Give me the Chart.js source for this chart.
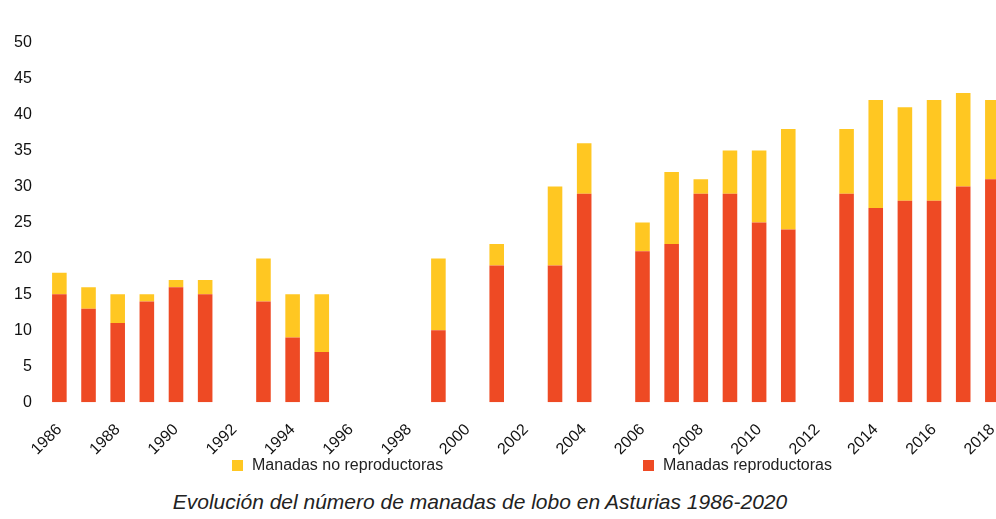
<!DOCTYPE html>
<html lang="es">
<head>
    <meta charset="UTF-8">
    <title>Evolución del número de manadas de lobo en Asturias 1986-2020</title>
    <style>
        body {
            margin: 0;
            background-color: #fff;
            font-family: 'Liberation Sans', Arial, sans-serif;
            width: 996px;
            height: 519px;
            overflow: hidden;
            position: relative;
        }
        .chart-box {
            position: absolute;
            left: 0;
            top: -16px;
            width: 1024px;
            height: 493px;
        }
        .legend {
            position: absolute;
            top: 456px;
            font-size: 16px;
            color: #222;
            display: flex;
            align-items: center;
        }
        .legend .box {
            display: inline-block;
            width: 11px;
            height: 11px;
            margin-right: 9px;
        }
        .caption {
            position: absolute;
            top: 490px;
            left: 0;
            width: 960px;
            text-align: center;
            font-style: italic;
            font-size: 21px;
            color: #222;
        }
    </style>
    <script src="https://cdn.jsdelivr.net/npm/chart.js"></script>
</head>
<body>
    <div class="chart-box">
        <canvas id="lobos"></canvas>
    </div>
    <div class="legend" style="left:232px;"><span class="box" style="background:#ffc722"></span>Manadas no reproductoras</div>
    <div class="legend" style="left:643px;"><span class="box" style="background:#ee4a24"></span>Manadas reproductoras</div>
    <div class="caption">Evolución del número de manadas de lobo en Asturias 1986-2020</div>
    <script>
        // años 1986-2018 (null = sin dato)
        const years = ['1986', '1987', '1988', '1989', '1990', '1991', '1992', '1993', '1994', '1995',
            '1996', '1997', '1998', '1999', '2000', '2001', '2002', '2003', '2004', '2005',
            '2006', '2007', '2008', '2009', '2010', '2011', '2012', '2013', '2014', '2015',
            '2016', '2017', '2018'];

        const reproductoras = [15, 13, 11, 14, 16, 15, null, 14, 9, 7,
            null, null, null, 10, null, 19, null, 19, 29, null,
            21, 22, 29, 29, 25, 24, null, 29, 27, 28,
            28, 30, 31];

        const noReproductoras = [3, 3, 4, 1, 1, 2, null, 6, 6, 8,
            null, null, null, 10, null, 3, null, 11, 7, null,
            4, 10, 2, 6, 10, 14, null, 9, 15, 13,
            14, 13, 11];

        const tickFont = { family: "'Liberation Sans', Arial, sans-serif", size: 16 };

        new Chart(document.getElementById('lobos'), {
            type: 'bar',
            data: {
                labels: years,
                datasets: [
                    {
                        label: 'Manadas reproductoras',
                        data: reproductoras,
                        backgroundColor: '#ee4a24',
                        barPercentage: 0.5,
                        categoryPercentage: 1.0
                    },
                    {
                        label: 'Manadas no reproductoras',
                        data: noReproductoras,
                        backgroundColor: '#ffc722',
                        barPercentage: 0.5,
                        categoryPercentage: 1.0
                    }
                ]
            },
            options: {
                responsive: true,
                maintainAspectRatio: false,
                animation: false,
                layout: { padding: { left: 1, right: 4, top: 0, bottom: 0 } },
                plugins: {
                    legend: { display: false },
                    tooltip: { enabled: false }
                },
                scales: {
                    x: {
                        stacked: true,
                        grid: { display: false, drawTicks: false },
                        border: { display: false },
                        ticks: {
                            autoSkip: false,
                            maxRotation: 45,
                            minRotation: 45,
                            padding: 18,
                            color: '#111',
                            font: tickFont,
                            callback: function (value, index) {
                                return index % 2 === 0 ? years[index] : '';
                            }
                        }
                    },
                    y: {
                        stacked: true,
                        min: 0,
                        max: 55,
                        grid: { display: false, drawTicks: false },
                        border: { display: false },
                        ticks: {
                            stepSize: 5,
                            padding: 13,
                            color: '#111',
                            font: tickFont,
                            callback: function (value) {
                                return value === 55 ? '' : value;
                            }
                        }
                    }
                }
            }
        });
    </script>
</body>
</html>
